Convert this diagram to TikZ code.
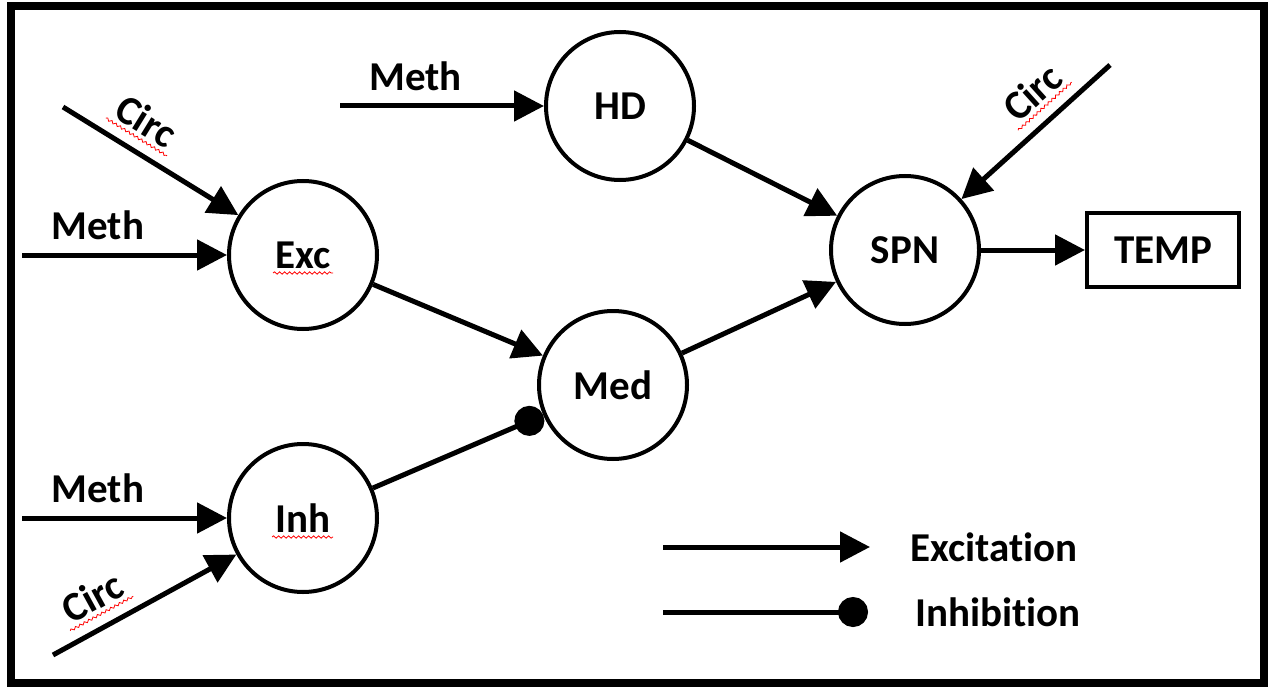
\documentclass[tikz,border=0pt]{standalone}
\usepackage{fontspec}
\setmainfont{Carlito}[Ligatures=NoCommon]
\usetikzlibrary{arrows.meta, positioning, decorations.pathmorphing}
\newcommand{\diagfont}{\fontsize{41}{49}\selectfont\bfseries}
\tikzstyle{neuron_node} = [circle, draw=black, line width=4pt, minimum size=148pt, inner sep=0pt, font=\diagfont]
\tikzstyle{output_node} = [rectangle, draw=black, line width=4pt, minimum width=152pt, minimum height=74pt, inner sep=0pt, font=\diagfont]
\tikzstyle{excite_arrow} = [line width=5pt, -{Triangle[length=30pt, width=30pt]}]
\tikzstyle{inhibit_arrow} = [line width=5pt, -{Circle[length=30pt]}]
\tikzstyle{input_label} = [font=\diagfont, inner sep=2pt]
\tikzstyle{spell_mark} = [red, line width=0.8pt, decorate, decoration={snake, amplitude=1.2pt, segment length=5pt}]

\begin{document}
\begin{tikzpicture}[x=1pt, y=-1pt]
    \useasboundingbox (0,0) rectangle (1268,687);
    \draw [line width=8pt] (11,6) rectangle (1264,683);

    % neurons
    \node (hd) [neuron_node] at (620,106) {HD};
    \node (exc) [neuron_node] at (303,255) {Exc};
    \node (med) [neuron_node] at (613,385) {Med};
    \node (inh) [neuron_node] at (303,518) {Inh};
    \node (spn) [neuron_node] at (905,250) {SPN};
    \node (temp) [output_node, right=104pt of spn] {TEMP};

    % free ends of the inputs
    \coordinate (meth_hd) at (340,106);
    \coordinate (meth_exc) at (22,255);
    \coordinate (meth_inh) at (22,518);
    \coordinate (circ_exc) at (63,107);
    \coordinate (circ_inh) at (53,655);
    \coordinate (circ_spn) at (1110,65);

    \draw [excite_arrow] (meth_hd) -- node[input_label, above=11pt, pos=0.37] {Meth} (hd);
    \draw [excite_arrow] (meth_exc) -- node[input_label, above=11pt, pos=0.37] {Meth} (exc);
    \draw [excite_arrow] (meth_inh) -- node[input_label, above=11pt, pos=0.37] {Meth} (inh);
    \draw [excite_arrow] (circ_exc) -- node[input_label, sloped, above=13pt, pos=0.38] (lab_exc) {Circ} (exc);
    \draw [excite_arrow] (circ_inh) -- node[input_label, sloped, above=13pt, pos=0.3] (lab_inh) {Circ} (inh);
    \draw [excite_arrow] (circ_spn) -- node[input_label, sloped, above=13pt, pos=0.38] (lab_spn) {Circ} (spn);

    \draw [excite_arrow] (exc) -- (med);
    \draw [inhibit_arrow] (inh) -- (med);
    \draw [excite_arrow] (med) -- (spn);
    \draw [excite_arrow] (hd) -- (spn);
    \draw [excite_arrow] (spn) -- (temp);

    % key
    \coordinate (key_ex_a) at (663,547);
    \coordinate (key_ex_b) at (870,547);
    \coordinate (key_in_a) at (663,612);
    \coordinate (key_in_b) at (868,612);
    \draw [excite_arrow] (key_ex_a) -- (key_ex_b);
    \draw [inhibit_arrow] (key_in_a) -- (key_in_b);
    \node (key_ex) [input_label, right=38pt of key_ex_b] {Excitation};
    \node (key_in) [input_label, right=45pt of key_in_b] {Inhibition};

    % spell check marks
    \draw [spell_mark] ([shift={(-30,18)}]exc.center) -- ++(60,0);
    \draw [spell_mark] ([shift={(-31,19)}]inh.center) -- ++(61,0);
    \draw [spell_mark] (lab_exc.south west) -- (lab_exc.south east);
    \draw [spell_mark] (lab_inh.south west) -- (lab_inh.south east);
    \draw [spell_mark] (lab_spn.south west) -- (lab_spn.south east);
\end{tikzpicture}
\end{document}
